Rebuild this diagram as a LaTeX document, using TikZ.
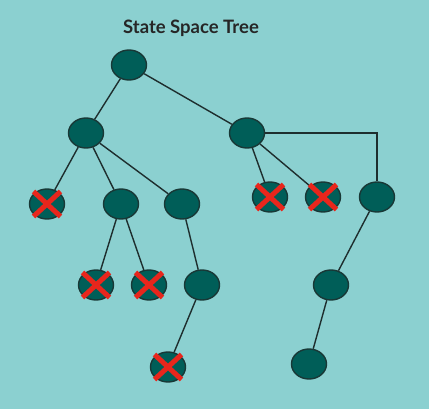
\documentclass[tikz,border=0pt]{standalone}
\usepackage{fontspec}
\setmainfont{Lato}
\usetikzlibrary{shapes.geometric}
\definecolor{bgc}{HTML}{8BD0D0}
\definecolor{nodefill}{HTML}{005E58}
\definecolor{nodeline}{HTML}{183836}
\definecolor{edgec}{HTML}{1E2E2E}
\definecolor{xred}{HTML}{E8261C}
\tikzset{
  tnode/.style={ellipse, fill=nodefill, draw=nodeline, line width=1.4pt, minimum width=35pt, minimum height=30pt, inner sep=0pt},
  edge/.style={draw=edgec, line width=1.4pt},
  xmark/.style={draw=xred, line width=5pt, line cap=butt},
  titletext/.style={font=\fontsize{18.5}{22}\selectfont\bfseries, text=black!85}
}
\newcommand{\killmark}[1]{\draw[xmark, shift={(#1.center)}] (-13.5,-12.5) -- (13.5,12.5) (-13.5,12.5) -- (13.5,-12.5);}
\begin{document}
\begin{tikzpicture}[x=1pt,y=-1pt]
\fill[bgc] (0,0) rectangle (429,409);
\useasboundingbox (0,0) rectangle (429,409);
\node[titletext] (title) at (191,28) {State Space Tree};
\node[tnode] (r) at (129,65) {};
\node[tnode] (a) at (86,133) {};
\node[tnode] (b) at (247,133) {};
\node[tnode] (a1) at (47,204) {};
\node[tnode] (a2) at (121,204) {};
\node[tnode] (a3) at (182,204) {};
\node[tnode] (b1) at (270,197) {};
\node[tnode] (b2) at (323,197) {};
\node[tnode] (b3) at (377,197) {};
\node[tnode] (a2a) at (96,285) {};
\node[tnode] (a2b) at (149,285) {};
\node[tnode] (a3a) at (202,285) {};
\node[tnode] (a3aa) at (168,367) {};
\node[tnode] (b3a) at (331,285) {};
\node[tnode] (b3aa) at (309,364) {};
\draw[edge] (r) -- (a);
\draw[edge] (r) -- (b);
\draw[edge] (a) -- (a1);
\draw[edge] (a) -- (a2);
\draw[edge] (a) -- (a3);
\draw[edge] (b) -- (b1);
\draw[edge] (b) -- (b2);
\draw[edge] (b.east) -| (b3.north);
\draw[edge] (a2) -- (a2a);
\draw[edge] (a2) -- (a2b);
\draw[edge] (a3) -- (a3a);
\draw[edge] (a3a) -- (a3aa);
\draw[edge] (b3) -- (b3a);
\draw[edge] (b3a) -- (b3aa);
\killmark{a1}
\killmark{b1}
\killmark{b2}
\killmark{a2a}
\killmark{a2b}
\killmark{a3aa}
\end{tikzpicture}
\end{document}
